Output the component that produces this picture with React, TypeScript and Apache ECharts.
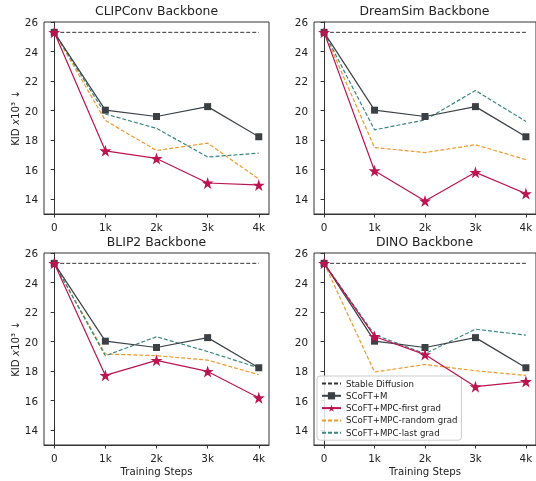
import React, { useEffect, useRef } from "react";
import * as echarts from "echarts";

const steps = [0, 1, 2, 3, 4];
const stepLabels = ["0", "1k", "2k", "3k", "4k"];
const yTicks = [14, 16, 18, 20, 22, 24, 26];
const panelTitles = ["CLIPConv Backbone", "DreamSim Backbone", "BLIP2 Backbone", "DINO Backbone"];
const seriesNames = [
  "Stable Diffusion",
  "SCoFT+M",
  "SCoFT+MPC-first grad",
  "SCoFT+MPC-random grad",
  "SCoFT+MPC-last grad",
];

const stableDiffusion = [25.3, 25.3, 25.3, 25.3, 25.3];
const scoftM = [25.3, 20.03, 19.6, 20.27, 18.23];

// per panel: CLIPConv, DreamSim, BLIP2, DINO
const firstGrad = [
  [25.3, 17.28, 16.76, 15.1, 14.96],
  [25.3, 15.93, 13.88, 15.82, 14.38],
  [25.3, 17.71, 18.73, 17.98, 16.2],
  [25.3, 20.35, 19.12, 16.95, 17.3],
];
const randomGrad = [
  [25.3, 19.33, 17.3, 17.8, 15.37],
  [25.3, 17.5, 17.16, 17.69, 16.68],
  [25.3, 19.16, 19.05, 18.75, 17.76],
  [25.3, 17.94, 18.45, 18.03, 17.71],
];
const lastGrad = [
  [25.3, 19.77, 18.8, 16.86, 17.12],
  [25.3, 18.7, 19.37, 21.36, 19.27],
  [25.3, 19.04, 20.33, 19.33, 18.22],
  [25.3, 20.47, 19.18, 20.84, 20.44],
];

const STAR =
  "path://M50,2 L61.2,36.4 L97.6,36.4 L68.2,57.8 L79.4,92.2 L50,71 L20.6,92.2 L31.8,57.8 L2.4,36.4 L38.8,36.4 Z";

const FONT = "DejaVu Sans";
const grids = [
  { left: 44, top: 22, width: 225, height: 192, min: -0.2, max: 4.2 },
  { left: 314, top: 22, width: 224.4, height: 192, min: -0.2, max: 4.2 },
  { left: 44, top: 253, width: 225, height: 192, min: -0.2, max: 4.2 },
  { left: 314, top: 253, width: 224.4, height: 192, min: -0.2, max: 4.2 },
];

const colors = {
  sd: "#333333",
  m: "#3b4045",
  first: "#bb1450",
  random: "#ee9a2c",
  last: "#3a8585",
};

function pairs(vals: number[]) {
  return steps.map((s, i) => [s, vals[i]]);
}

export default function App() {
  const ref = useRef<HTMLDivElement>(null);
  useEffect(() => {
    if (!ref.current) return;
    const chart = echarts.init(ref.current, null, { renderer: "svg" });
    const series: any[] = [];
    grids.forEach((g, p) => {
      series.push({
        name: seriesNames[0],
        type: "line",
        xAxisIndex: p,
        yAxisIndex: p,
        data: pairs(stableDiffusion),
        symbol: "none",
        lineStyle: { color: colors.sd, width: 1, type: [4, 2] },
        itemStyle: { color: colors.sd },
        z: 2,
      });
      series.push({
        name: seriesNames[1],
        type: "line",
        xAxisIndex: p,
        yAxisIndex: p,
        data: pairs(scoftM),
        symbol: "rect",
        symbolSize: 7,
        lineStyle: { color: colors.m, width: 1.2 },
        itemStyle: { color: colors.m },
        z: 3,
      });
      series.push({
        name: seriesNames[2],
        type: "line",
        xAxisIndex: p,
        yAxisIndex: p,
        data: pairs(firstGrad[p]),
        symbol: STAR,
        symbolSize: 12,
        lineStyle: { color: colors.first, width: 1.2 },
        itemStyle: { color: colors.first },
        z: 4,
      });
      series.push({
        name: seriesNames[3],
        type: "line",
        xAxisIndex: p,
        yAxisIndex: p,
        data: pairs(randomGrad[p]),
        symbol: "none",
        lineStyle: { color: colors.random, width: 1.2, type: [4, 2] },
        itemStyle: { color: colors.random },
        z: 2,
      });
      series.push({
        name: seriesNames[4],
        type: "line",
        xAxisIndex: p,
        yAxisIndex: p,
        data: pairs(lastGrad[p]),
        symbol: "none",
        lineStyle: { color: colors.last, width: 1.2, type: [4, 2] },
        itemStyle: { color: colors.last },
        z: 2,
      });
    });

    const hiddenSymbol = { opacity: 0 };
    const option: any = {
      animation: false,
      textStyle: { fontFamily: FONT },
      title: grids.map((g, p) => ({
        text: panelTitles[p],
        left: g.left + (p % 2 === 1 ? 221 : 225) / 2,
        textAlign: "center",
        top: p < 2 ? 4 : 235,
        padding: 0,
        textStyle: { fontFamily: FONT, fontSize: 12.4, fontWeight: "normal", color: "#222" },
      })),
      grid: grids.map((g) => ({
        left: g.left,
        top: g.top,
        width: g.width,
        height: g.height,
        show: true,
        borderColor: "#333",
        borderWidth: 1,
        backgroundColor: "transparent",
      })),
      xAxis: grids.map((g, p) => ({
        type: "value",
        gridIndex: p,
        min: g.min,
        max: g.max,
        splitLine: { show: false },
        axisLine: { show: true, onZero: false, lineStyle: { color: "#333" } },
        axisTick: { show: true, length: 3.5, customValues: steps, lineStyle: { color: "#333" } },
        axisLabel: {
          customValues: steps,
          formatter: (v: number) => stepLabels[steps.indexOf(Math.round(v))] ?? "",
          fontSize: 10.4,
          color: "#222",
          fontFamily: FONT,
          margin: 7.5,
        },
        name: p >= 2 ? "Training Steps" : "",
        nameLocation: "middle",
        nameGap: 21,
        nameTextStyle: { fontSize: 10.2, color: "#222", fontFamily: FONT },
      })),
      yAxis: grids.map((g, p) => ({
        type: "value",
        gridIndex: p,
        min: 13,
        max: 26,
        splitLine: { show: false },
        axisLine: { show: true, lineStyle: { color: "#333" } },
        axisTick: { show: true, length: 3.5, customValues: yTicks, lineStyle: { color: "#333" } },
        axisLabel: {
          customValues: yTicks,
          fontSize: 10.4,
          color: "#222",
          fontFamily: FONT,
          margin: 6,
        },
        name: p % 2 === 0 ? "KID {i|x}10³ ↓" : "",
        nameLocation: "middle",
        nameGap: 24,
        nameRotate: 90,
        nameTextStyle: {
          fontSize: 10.2,
          color: "#222",
          fontFamily: FONT,
          rich: { i: { fontStyle: "italic", fontSize: 10.2, color: "#222", fontFamily: FONT } },
        },
      })),
      legend: {
        data: [
          { name: seriesNames[0], itemStyle: hiddenSymbol },
          { name: seriesNames[1] },
          { name: seriesNames[2] },
          { name: seriesNames[3], itemStyle: hiddenSymbol },
          { name: seriesNames[4], itemStyle: hiddenSymbol },
        ],
        orient: "vertical",
        left: 317,
        top: 376,
        itemWidth: 19,
        itemHeight: 9,
        itemGap: 3.3,
        padding: [3, 4, 3, 4],
        borderColor: "#cccccc",
        borderWidth: 1,
        borderRadius: 3,
        backgroundColor: "rgba(255,255,255,0.85)",
        textStyle: { fontSize: 8.6, color: "#222", fontFamily: FONT },
      },
      series,
    };
    chart.setOption(option);
    return () => chart.dispose();
  }, []);
  return (
    <div
      ref={ref}
      style={{ position: "fixed", left: 0, top: 0, width: 536, height: 481 }}
    />
  );
}
